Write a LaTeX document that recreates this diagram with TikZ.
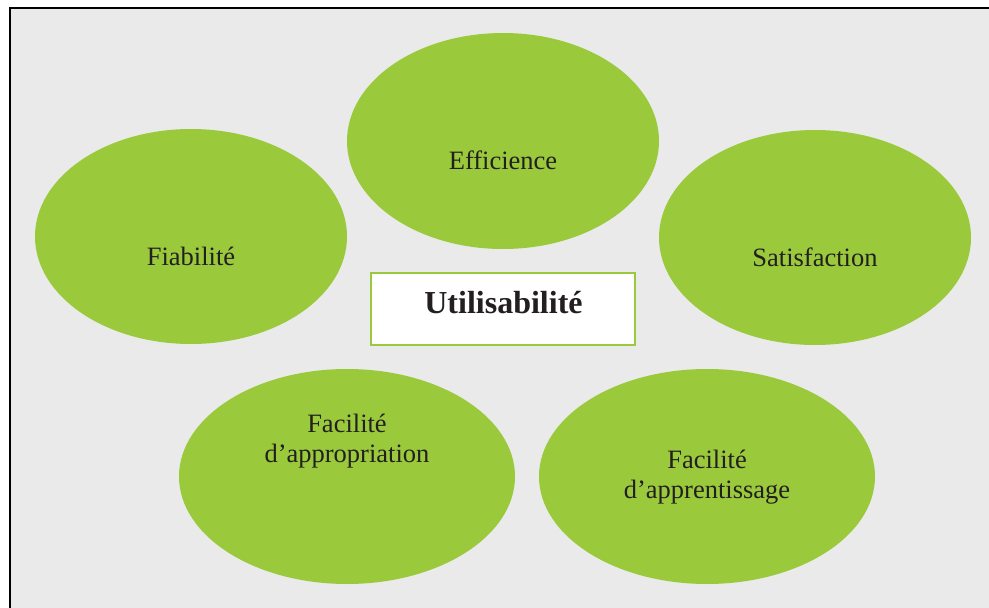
\documentclass[tikz,border=0pt]{standalone}
\usepackage{fontspec}
\setmainfont{Liberation Serif}
\usetikzlibrary{shapes.geometric}
\definecolor{leaf}{HTML}{9ACA3C}
\definecolor{panel}{HTML}{EAEAEA}
\definecolor{ink}{HTML}{231F20}
\tikzset{
  blob/.style={ellipse, fill=leaf, draw=none, inner sep=0pt},
  word/.style={anchor=base, inner sep=0pt, text=ink, font=\fontsize{26.5}{30}\selectfont},
  titlebox/.style={rectangle, fill=white, draw=leaf, line width=2pt, inner sep=0pt},
  titleword/.style={anchor=base, inner sep=0pt, text=ink, font=\fontsize{32}{36}\selectfont\bfseries}
}
\begin{document}
\begin{tikzpicture}[x=1pt,y=-1pt]
\useasboundingbox (0,0) rectangle (989,608);
\fill[white] (0,0) rectangle (989,608);
\draw[fill=panel, draw=black, line width=2pt] (10,8) rectangle (1000,620);
% ellipses
\node (eff) [blob, minimum width=312pt, minimum height=216pt] at (503,141) {};
\node (fia) [blob, minimum width=312pt, minimum height=215pt] at (191,236.5) {};
\node (sat) [blob, minimum width=312pt, minimum height=215pt] at (815,237.5) {};
\node (app) [blob, minimum width=336pt, minimum height=215pt] at (347,476.5) {};
\node (apr) [blob, minimum width=336pt, minimum height=215pt] at (707,476.5) {};
% centre box
\node (uti) [titlebox, minimum width=264pt, minimum height=72pt] at (503,309) {};
% texts
\node (efft) [word] at (503,169) {Efficience};
\node (fiat) [word] at (191,265.5) {Fiabilité};
\node (satt) [word] at (815,266) {Satisfaction};
\node (appa) [word] at (347,432) {Facilité};
\node (appb) [word] at (347,462) {d’appropriation};
\node (apra) [word] at (707,468) {Facilité};
\node (aprb) [word] at (707,498) {d’apprentissage};
\node (utit) [titleword] at (503.5,313) {Utilisabilité};
\end{tikzpicture}
\end{document}
